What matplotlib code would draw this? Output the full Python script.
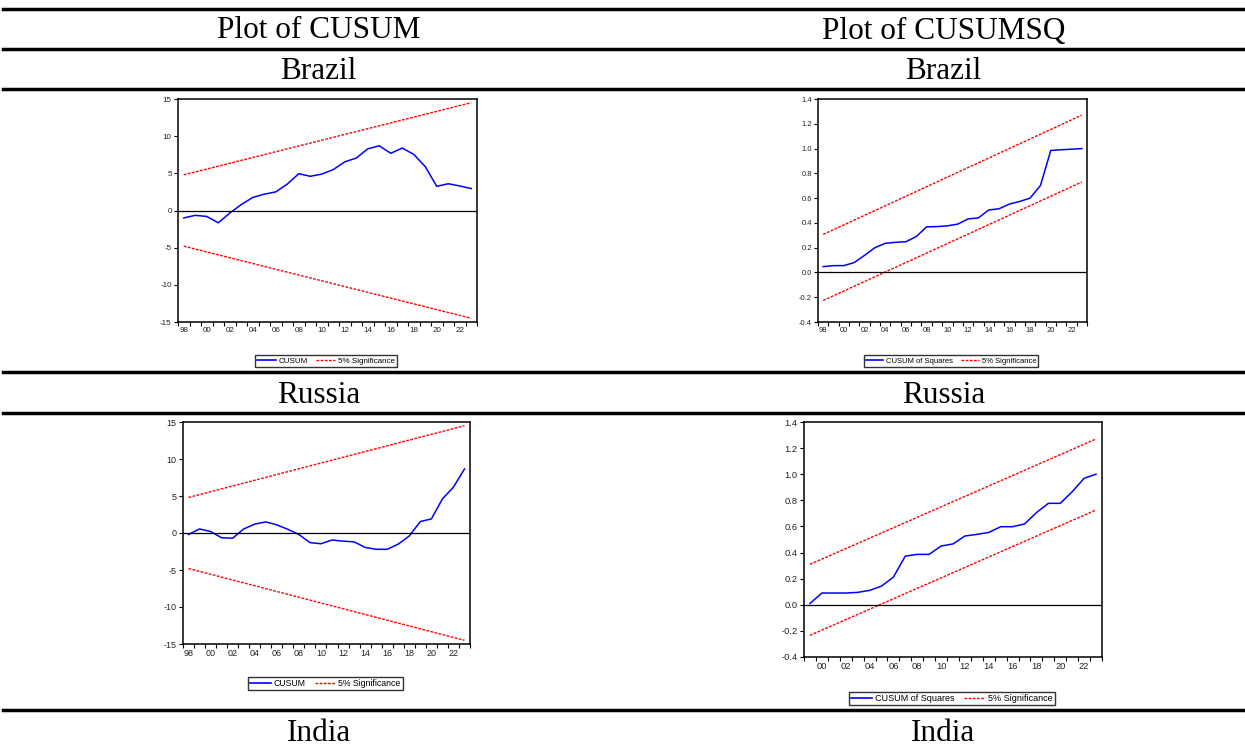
import matplotlib
matplotlib.use('Agg')
import matplotlib.pyplot as plt
from matplotlib.lines import Line2D
from matplotlib.ticker import FixedLocator, FuncFormatter, FormatStrFormatter

W, H = 1245, 746

# Brazil
years_br = list(range(1998, 2024))
cusum_br = [-1.0, -0.65, -0.8, -1.65, -0.35, 0.8, 1.75, 2.2, 2.5, 3.55, 4.95, 4.6, 4.9,
            5.5, 6.55, 7.05, 8.3, 8.7, 7.7, 8.4, 7.55, 5.9, 3.25, 3.6, 3.3, 2.95]
cusum_band_br = [4.8, 14.5]
cusumsq_br = [0.047, 0.055, 0.055, 0.08, 0.138, 0.2, 0.235, 0.243, 0.248, 0.29, 0.368, 0.37, 0.376,
              0.39, 0.432, 0.44, 0.504, 0.514, 0.552, 0.573, 0.6, 0.702, 0.985, 0.99, 0.995, 1.0]
sq_upper_br = [0.307, 1.27]
sq_lower_br = [-0.226, 0.73]

# Russia
years_ru = list(range(1998, 2024))
cusum_ru = [-0.2, 0.55, 0.2, -0.65, -0.7, 0.55, 1.2, 1.5, 1.1, 0.5, -0.2, -1.3, -1.45,
            -0.95, -1.1, -1.2, -1.95, -2.2, -2.2, -1.5, -0.4, 1.55, 1.9, 4.6, 6.2, 8.65]
cusum_band_ru = [4.8, 14.5]
years_ru_sq = list(range(1999, 2024))
cusumsq_ru = [0.01, 0.09, 0.09, 0.09, 0.095, 0.11, 0.143, 0.212, 0.373, 0.386, 0.386, 0.45, 0.466,
              0.527, 0.539, 0.554, 0.598, 0.598, 0.619, 0.706, 0.777, 0.777, 0.866, 0.969, 1.0]
sq_upper_ru = [0.31, 1.27]
sq_lower_ru = [-0.234, 0.726]

col_titles = ['Plot of CUSUM', 'Plot of CUSUMSQ']
row_titles = ['Brazil', 'Russia', 'India']

fig = plt.figure(figsize=(W / 100, H / 100), dpi=100)

def px_axes(x0, y0, x1, y1):
    return fig.add_axes([x0 / W, 1 - y1 / H, (x1 - x0) / W, (y1 - y0) / H])

def hrule(y):
    fig.add_artist(Line2D([3 / W, 1], [1 - y / H, 1 - y / H], color='black',
                          lw=2.5, transform=fig.transFigure))

def header(x, y, s):
    fig.text(x / W, 1 - y / H, s, ha='center', va='baseline',
             family='Liberation Serif', fontsize=22.5)

def eviews_axes(ax, years, ylim, yticks, fmt, fs):
    ax.set_xlim(years[0] - 0.5, years[-1] + 0.5)
    ax.set_ylim(*ylim)
    ax.set_yticks(yticks)
    ax.yaxis.set_major_formatter(fmt)
    even = [y for y in years if y % 2 == 0]
    ax.xaxis.set_major_locator(FixedLocator(even))
    ax.xaxis.set_major_formatter(FuncFormatter(lambda v, p: '%02d' % (int(round(v)) % 100)))
    ax.xaxis.set_minor_locator(FixedLocator([y - 0.5 for y in years] + [years[-1] + 0.5]))
    ax.tick_params(axis='x', which='major', length=0, pad=3.5, labelsize=fs)
    ax.tick_params(axis='x', which='minor', length=3, width=0.8)
    ax.tick_params(axis='y', length=3, width=0.8, pad=1.5, labelsize=fs)
    ax.axhline(0, color='black', lw=0.9)
    for s in ax.spines.values():
        s.set_linewidth(1.1)
    for lab in ax.get_xticklabels() + ax.get_yticklabels():
        lab.set_family(['Liberation Sans Narrow', 'Liberation Sans'])
        lab.set_color('#222222')

def add_legend(ax, label, cx, cy, fs):
    h1 = Line2D([], [], color='blue', lw=1.2)
    h2 = Line2D([], [], color='red', lw=1.0, ls=(0, (2, 1)))
    fig.legend([h1, h2], [label, '5% Significance'], loc='center',
               bbox_to_anchor=(cx / W, 1 - cy / H), ncol=2, fancybox=False,
               edgecolor='#333333', framealpha=1, borderpad=0.25,
               handlelength=2.3, handletextpad=0.4, columnspacing=1.0,
               prop={'family': ['Liberation Sans Narrow', 'Liberation Sans'], 'size': fs})

cusum_ticks = [-15, -10, -5, 0, 5, 10, 15]
sq_ticks = [-0.4, -0.2, 0.0, 0.2, 0.4, 0.6, 0.8, 1.0, 1.2, 1.4]
red_dash = (0, (2, 1))

# Brazil CUSUM
ax = px_axes(178, 99, 477, 322)
ax.plot(years_br, cusum_br, color='blue', lw=1.1)
ends = [years_br[0], years_br[-1]]
ax.plot(ends, cusum_band_br, color='red', lw=1.0, ls=red_dash)
ax.plot(ends, [-v for v in cusum_band_br], color='red', lw=1.0, ls=red_dash)
eviews_axes(ax, years_br, (-15, 15), cusum_ticks, FormatStrFormatter('%d'), 5.8)
add_legend(ax, 'CUSUM', 326, 361, 5.8)

# Brazil CUSUMSQ
ax = px_axes(818, 99, 1087, 322)
ax.plot(years_br, cusumsq_br, color='blue', lw=1.1)
ax.plot(ends, sq_upper_br, color='red', lw=1.0, ls=red_dash)
ax.plot(ends, sq_lower_br, color='red', lw=1.0, ls=red_dash)
eviews_axes(ax, years_br, (-0.4, 1.4), sq_ticks, FormatStrFormatter('%.1f'), 5.5)
add_legend(ax, 'CUSUM of Squares', 951, 361, 5.5)

# Russia CUSUM
ax = px_axes(183, 422, 470, 644)
ax.plot(years_ru, cusum_ru, color='blue', lw=1.1)
ends = [years_ru[0], years_ru[-1]]
ax.plot(ends, cusum_band_ru, color='red', lw=1.0, ls=red_dash)
ax.plot(ends, [-v for v in cusum_band_ru], color='red', lw=1.0, ls=red_dash)
eviews_axes(ax, years_ru, (-15, 15), cusum_ticks, FormatStrFormatter('%d'), 6.5)
add_legend(ax, 'CUSUM', 325.5, 683.5, 6.3)

# Russia CUSUMSQ
ax = px_axes(804, 422, 1102, 657)
ax.plot(years_ru_sq, cusumsq_ru, color='blue', lw=1.1)
ends = [years_ru_sq[0], years_ru_sq[-1]]
ax.plot(ends, sq_upper_ru, color='red', lw=1.0, ls=red_dash)
ax.plot(ends, sq_lower_ru, color='red', lw=1.0, ls=red_dash)
eviews_axes(ax, years_ru_sq, (-0.4, 1.4), sq_ticks, FormatStrFormatter('%.1f'), 6.7)
add_legend(ax, 'CUSUM of Squares', 952, 698.5, 6.5)

# table rules and headings
for y in [9, 49, 89, 372, 413, 710]:
    hrule(y)
header(318.5, 38.5, col_titles[0])
header(943.5, 38.5, col_titles[1])
for (yb, name) in zip([79, 403, 741], row_titles):
    header(318.5, yb, name)
    header(943.5, yb, name)

fig.savefig('out.png', dpi=100)
